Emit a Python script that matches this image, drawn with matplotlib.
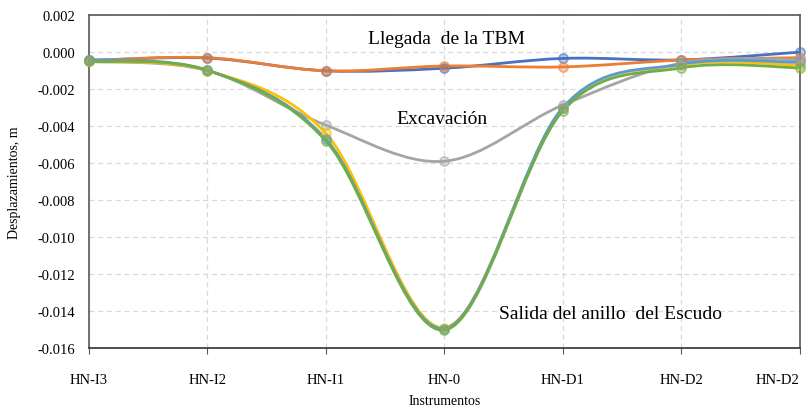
import numpy as np
import matplotlib
matplotlib.use("Agg")
from matplotlib import pyplot as plt
from matplotlib.path import Path
from matplotlib.patches import PathPatch
from matplotlib.colors import to_rgba
from matplotlib import transforms as mtransforms

plt.rcParams['font.family'] = ['Liberation Serif', 'DejaVu Serif']
plt.rcParams['axes.unicode_minus'] = False

instrumentos = ["HN-I3", "HN-I2", "HN-I1", "HN-0", "HN-D1", "HN-D2", "HN-D2"]

# desplazamientos (m) por serie
azul = [-0.00045, -0.00032, -0.00101, -0.00087, -0.00034, -0.00042, 0.00000]
naranja = [-0.00045, -0.00030, -0.00101, -0.00075, -0.00080, -0.00043, -0.00030]
gris = [-0.00050, -0.00100, -0.00395, -0.00590, -0.00286, -0.00060, -0.00040]
amarillo = [-0.00050, -0.00100, -0.00440, -0.01490, -0.00300, -0.00070, -0.00070]
celeste = [-0.00040, -0.00098, -0.00470, -0.01495, -0.00300, -0.00065, -0.00055]
verde = [-0.00050, -0.00098, -0.00480, -0.01503, -0.00317, -0.00085, -0.00085]

series = [
    (azul, "#4472C4"),
    (naranja, "#ED7D31"),
    (gris, "#A5A5A5"),
    (amarillo, "#FFC000"),
    (celeste, "#5B9BD5"),
    (verde, "#70AD47"),
]

y_ticks = [0.002, 0.000, -0.002, -0.004, -0.006, -0.008, -0.010, -0.012, -0.014, -0.016]


def smooth_path(x, y):
    # curva suavizada tipo Excel (bezier cubica por tramos)
    pts = np.column_stack([x, y]).astype(float)
    n = len(pts)
    verts = [pts[0]]
    codes = [Path.MOVETO]
    for i in range(n - 1):
        p0 = pts[i - 1] if i > 0 else pts[i]
        p1 = pts[i]
        p2 = pts[i + 1]
        p3 = pts[i + 2] if i + 2 < n else pts[i + 1]
        c1 = p1 + (p2 - p0) / 6.0
        c2 = p2 - (p3 - p1) / 6.0
        verts += [c1, c2, p2]
        codes += [Path.CURVE4] * 3
    return Path(verts, codes)


fig = plt.figure(figsize=(8.08, 4.14), dpi=100)
ax = fig.add_axes([0.110, 0.157, 0.880, 0.804])

x = np.arange(len(instrumentos))
for vals, col in series:
    patch = PathPatch(smooth_path(x, vals), facecolor='none', edgecolor=col,
                      lw=2.0, transform=ax.transData, zorder=3)
    ax.add_patch(patch)
    ax.plot(x, vals, linestyle='none', marker='o', markersize=6.5,
            markerfacecolor=to_rgba(col, 0.35), markeredgecolor=to_rgba(col, 0.6),
            markeredgewidth=1.3, zorder=4, clip_on=False)

ax.set_xlim(0, len(instrumentos) - 1)
ax.set_ylim(-0.016, 0.002)
ax.set_xticks(x)
ax.set_xticklabels(instrumentos, fontsize=10.5)
ax.set_yticks(y_ticks)
ax.set_yticklabels(["%.3f" % v for v in y_ticks], fontsize=10.5)
ax.tick_params(axis='x', length=4, pad=14, color="#595959")
ax.tick_params(axis='y', length=0, pad=10)

# la ultima etiqueta queda dentro de la figura
last = ax.get_xticklabels()[-1]
last.set_transform(last.get_transform() + mtransforms.ScaledTranslation(-16/72, 0, fig.dpi_scale_trans))

ax.grid(True, color="#D9D9D9", linestyle=(0, (4, 3)), linewidth=0.9)
ax.set_axisbelow(True)
for s in ['top', 'right', 'left']:
    ax.spines[s].set_color("#595959")
    ax.spines[s].set_linewidth(1.2)
ax.spines['bottom'].set_color("#404040")
ax.spines['bottom'].set_linewidth(1.3)

ax.set_xlabel("Instrumentos", fontsize=10, labelpad=6)
ax.set_ylabel("Desplazamientos, m", fontsize=10, labelpad=12)

ax.text(3.02, 0.00076, "Llegada  de la TBM", fontsize=14, ha='center', va='center')
ax.text(2.98, -0.00357, "Excavación", fontsize=14, ha='center', va='center')
ax.text(4.40, -0.01415, "Salida del anillo  del Escudo", fontsize=14, ha='center', va='center')

fig.savefig("out.png", dpi=100)
